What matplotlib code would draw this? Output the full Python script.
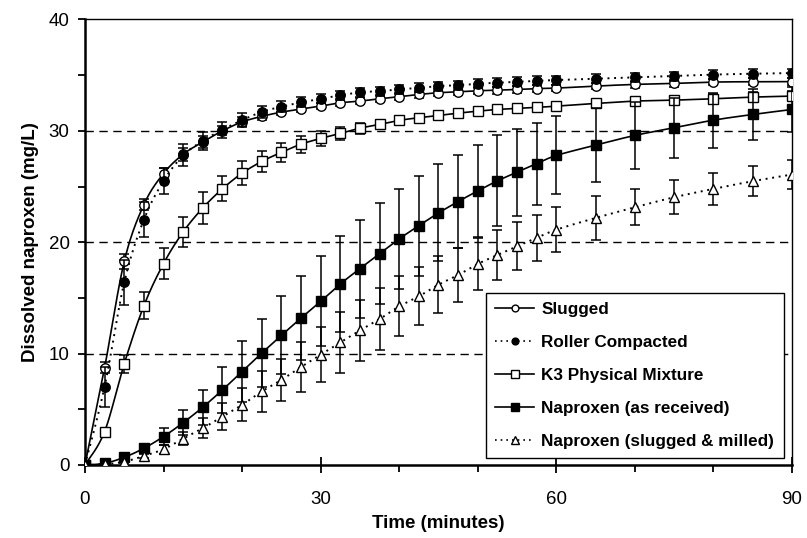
import numpy as np
import matplotlib
matplotlib.use("Agg")
import matplotlib.pyplot as plt
from matplotlib.lines import Line2D
from matplotlib.ticker import MultipleLocator

plt.rcParams['font.family'] = ['Liberation Sans', 'DejaVu Sans']

time = [0, 2.5, 5, 7.5, 10, 12.5, 15, 17.5, 20, 22.5, 25, 27.5, 30, 32.5, 35, 37.5,
        40, 42.5, 45, 47.5, 50, 52.5, 55, 57.5, 60, 65, 70, 75, 80, 85, 90]

slugged = [0, 8.75, 18.28, 23.38, 26.17, 27.9, 29.0, 30.0, 30.8, 31.3, 31.68, 31.95,
           32.22, 32.52, 32.67, 32.88, 33.06, 33.27, 33.42, 33.51, 33.6, 33.65, 33.72,
           33.8, 33.84, 34.02, 34.17, 34.26, 34.38, 34.41, 34.42]
slugged_err = [0, 0.5, 0.7, 0.5, 0.5, 0.6, 0.5, 0.4, 0.4, 0.35, 0.3, 0.3, 0.3, 0.3,
               0.3, 0.3, 0.3, 0.3, 0.3, 0.3, 0.3, 0.3, 0.3, 0.3, 0.3, 0.3, 0.3, 0.3,
               0.3, 0.3, 0.3]

roller = [0, 7.04, 16.4, 22.03, 25.5, 27.8, 29.1, 30.1, 30.96, 31.7, 32.17, 32.55,
          32.88, 33.2, 33.45, 33.57, 33.72, 33.87, 34.02, 34.1, 34.23, 34.32, 34.4,
          34.5, 34.56, 34.68, 34.8, 34.92, 35.05, 35.13, 35.19]
roller_err = [0, 1.8, 2.0, 1.56, 1.2, 1.0, 0.8, 0.7, 0.6, 0.55, 0.5, 0.45, 0.4, 0.4,
              0.4, 0.4, 0.4, 0.4, 0.4, 0.4, 0.4, 0.4, 0.4, 0.4, 0.4, 0.4, 0.4, 0.4,
              0.4, 0.4, 0.4]

k3 = [0, 3.0, 9.1, 14.3, 18.08, 20.93, 23.08, 24.8, 26.2, 27.25, 28.07, 28.8, 29.32,
      29.77, 30.24, 30.58, 30.94, 31.18, 31.38, 31.59, 31.77, 31.92, 32.01, 32.1,
      32.22, 32.46, 32.67, 32.76, 32.88, 33.03, 33.12]
k3_err = [0, 0.3, 0.8, 1.23, 1.42, 1.35, 1.4, 1.14, 1.05, 0.9, 0.87, 0.75, 0.7, 0.6,
          0.5, 0.4, 0.35, 0.3, 0.3, 0.3, 0.3, 0.3, 0.3, 0.3, 0.3, 0.3, 0.3, 0.3,
          0.4, 0.45, 0.45]

naproxen = [0, 0.15, 0.69, 1.5, 2.55, 3.8, 5.19, 6.74, 8.39, 10.04, 11.63, 13.19,
            14.69, 16.25, 17.63, 18.97, 20.3, 21.49, 22.63, 23.65, 24.61, 25.51,
            26.29, 27.05, 27.79, 28.72, 29.59, 30.28, 30.96, 31.47, 31.92]
naproxen_err = [0, 0.1, 0.2, 0.4, 0.75, 1.14, 1.56, 2.1, 2.7, 3.06, 3.5, 3.75, 4.04,
                4.28, 4.4, 4.56, 4.49, 4.5, 4.35, 4.2, 4.1, 4.08, 3.9, 3.69, 3.5, 3.3,
                3.0, 2.7, 2.47, 2.3, 2.0]

milled = [0, 0.05, 0.3, 0.81, 1.41, 2.37, 3.3, 4.35, 5.4, 6.6, 7.64, 8.8, 9.89, 11.0,
          12.08, 13.1, 14.24, 15.14, 16.19, 17.06, 18.05, 18.86, 19.63, 20.4, 21.13,
          22.18, 23.14, 24.04, 24.79, 25.48, 26.08]
milled_err = [0, 0, 0.1, 0.2, 0.4, 0.6, 0.9, 1.23, 1.47, 1.87, 1.86, 2.25, 2.46, 2.7,
              2.76, 2.76, 2.7, 2.6, 2.55, 2.4, 2.36, 2.25, 2.16, 2.05, 2.0, 1.95,
              1.63, 1.52, 1.41, 1.35, 1.3]

labels = ["Slugged", "Roller Compacted", "K3 Physical Mixture",
          "Naproxen (as received)", "Naproxen (slugged & milled)"]

x_ticks = [0, 30, 60, 90]
y_ticks = [0, 10, 20, 30, 40]


def smooth(x, y, n=20):
    """Catmull-Rom style smoothing (like Excel's smoothed lines)."""
    x = np.asarray(x, float)
    y = np.asarray(y, float)
    px = np.concatenate([[x[0]], x, [x[-1]]])
    py = np.concatenate([[y[0]], y, [y[-1]]])
    xs, ys = [], []
    t = np.linspace(0, 1, n, endpoint=False)
    for i in range(1, len(px) - 2):
        p0x, p1x, p2x, p3x = px[i - 1], px[i], px[i + 1], px[i + 2]
        p0y, p1y, p2y, p3y = py[i - 1], py[i], py[i + 1], py[i + 2]
        c1x = p1x + (p2x - p0x) / 6
        c1y = p1y + (p2y - p0y) / 6
        c2x = p2x - (p3x - p1x) / 6
        c2y = p2y - (p3y - p1y) / 6
        b0 = (1 - t) ** 3
        b1 = 3 * (1 - t) ** 2 * t
        b2 = 3 * (1 - t) * t ** 2
        b3 = t ** 3
        xs.append(b0 * p1x + b1 * c1x + b2 * c2x + b3 * p2x)
        ys.append(b0 * p1y + b1 * c1y + b2 * c2y + b3 * p2y)
    xs.append([x[-1]])
    ys.append([y[-1]])
    return np.concatenate(xs), np.concatenate(ys)


fig = plt.figure(figsize=(8.07, 5.38), dpi=100)
ax = fig.add_axes([0.1053, 0.1357, 0.8761, 0.8281])

for yv in [10, 20, 30]:
    ax.axhline(yv, color='black', lw=1.0, ls=(0, (6, 4)), zorder=1)

dotted = (0, (1, 2.4))
series = [
    (slugged, slugged_err, '-', 'o', 'white', 6.8),
    (roller, roller_err, dotted, 'o', 'black', 6.8),
    (k3, k3_err, '-', 's', 'white', 7.2),
    (naproxen, naproxen_err, '-', 's', 'black', 7.2),
    (milled, milled_err, dotted, '^', 'white', 7.4),
]

handles = []
for i, (vals, err, ls, mk, fc, ms) in enumerate(series):
    z = 3 + i
    sx, sy = smooth(time, vals)
    ax.plot(sx, sy, color='black', lw=1.2 if ls == '-' else 1.4, ls=ls, zorder=z)
    ax.errorbar(time, vals, yerr=err, fmt='none', ecolor='black', elinewidth=1.1,
                capsize=3.5, capthick=1.1, zorder=z)
    ax.plot(time, vals, ls='none', marker=mk, ms=ms, mfc=fc, mec='black', mew=1.0,
            zorder=z + 0.5)
    handles.append(Line2D([], [], color='black', ls=ls, lw=1.2, marker=mk, ms=ms * 0.72,
                          mfc=fc, mec='black', mew=1.0))

ax.set_xlim(0, 90)
ax.set_ylim(0, 40)
ax.set_xticks(x_ticks)
ax.set_yticks(y_ticks)
ax.xaxis.set_minor_locator(MultipleLocator(10))
ax.yaxis.set_minor_locator(MultipleLocator(5))
ax.tick_params(axis='x', which='major', direction='inout', length=12, width=1.3,
               labelsize=13.5, pad=13)
ax.tick_params(axis='x', which='minor', direction='out', length=5, width=1.3)
ax.tick_params(axis='y', which='both', direction='out', length=5, width=1.3,
               labelsize=13.5, pad=6)

for side in ['left', 'bottom']:
    ax.spines[side].set_linewidth(1.8)
for side in ['top', 'right']:
    ax.spines[side].set_linewidth(1.0)

ax.set_xlabel("Time (minutes)", fontsize=13.5, fontweight='bold', labelpad=5)
ax.set_ylabel("Dissolved naproxen (mg/L)", fontsize=13.5, fontweight='bold', labelpad=7)

leg = ax.legend(handles, labels, loc='lower right', bbox_to_anchor=(0.988, 0.015),
                prop={'weight': 'bold', 'size': 12.3}, frameon=True, fancybox=False,
                edgecolor='black', framealpha=1, handlelength=2.3, handletextpad=0.4,
                labelspacing=1.05, borderpad=0.55, borderaxespad=0)
leg.get_frame().set_linewidth(1.0)

fig.savefig("out.png", dpi=100)
